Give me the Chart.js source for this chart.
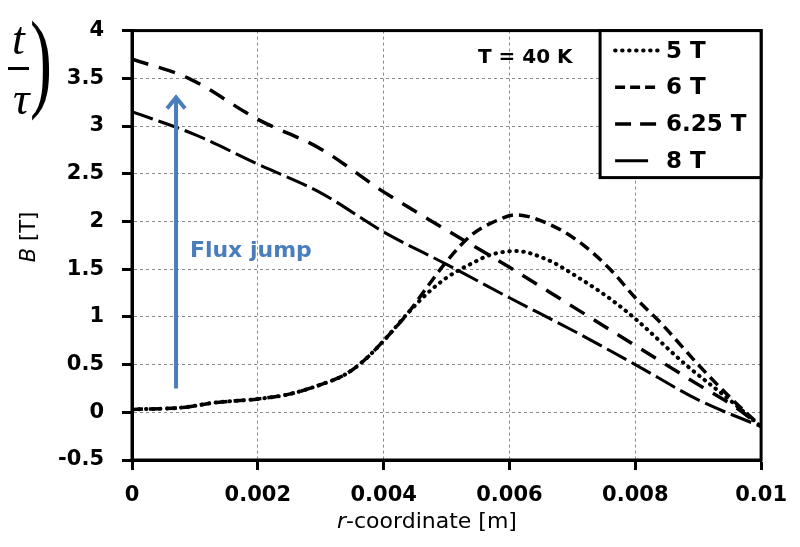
<!DOCTYPE html>
<html>
<head>
<meta charset="utf-8">
<script src="https://cdn.jsdelivr.net/npm/chart.js@4"></script>
<style>
  html, body { margin: 0; padding: 0; background: #fff; }
  canvas { display: block; }
</style>
</head>
<body>
<canvas id="fluxChart" width="800" height="547"></canvas>
<script>
// ==========================================
// Data
// ==========================================

const xTickLabels = ['0', '0.002', '0.004', '0.006', '0.008', '0.01'];
const yTickLabels = ['-0.5', '0', '0.5', '1', '1.5', '2', '2.5', '3', '3.5', '4'];
const seriesNames = ['5 T', '6 T', '6.25 T', '8 T'];

// 5 T (dotted)
const r5 = [0, 0.0008, 0.0013, 0.002, 0.0025, 0.003, 0.0034, 0.0037, 0.004, 0.0044,
            0.0047, 0.005, 0.0054, 0.0057, 0.0061, 0.0066, 0.0071, 0.0076, 0.008, 0.0088, 0.0095, 0.01];
const b5 = [0.03, 0.05, 0.10, 0.14, 0.19, 0.29, 0.40, 0.55, 0.75, 1.05,
            1.25, 1.41, 1.56, 1.65, 1.69, 1.60, 1.41, 1.19, 0.98, 0.50, 0.13, -0.15];

// 6 T (short dashes)
const r6 = [0, 0.0008, 0.0013, 0.002, 0.0025, 0.003, 0.0034, 0.0037, 0.004, 0.0044,
            0.0047, 0.005, 0.0054, 0.0058, 0.0061, 0.0066, 0.0071, 0.0076, 0.008, 0.0084, 0.009, 0.0095, 0.01];
const b6 = [0.03, 0.05, 0.10, 0.14, 0.19, 0.29, 0.40, 0.55, 0.75, 1.05,
            1.32, 1.58, 1.86, 2.01, 2.07, 1.98, 1.79, 1.50, 1.20, 0.94, 0.50, 0.16, -0.15];

// 6.25 T (long dashes)
const r625 = [0, 0.0009, 0.002, 0.003, 0.004, 0.005, 0.006, 0.007, 0.008, 0.009, 0.0096, 0.01];
const b625 = [3.70, 3.50, 3.07, 2.76, 2.31, 1.91, 1.52, 1.11, 0.70, 0.29, 0.05, -0.15];

// 8 T (solid)
const r8 = [0, 0.001, 0.002, 0.003, 0.004, 0.005, 0.006, 0.007, 0.008, 0.009, 0.01];
const b8 = [3.15, 2.91, 2.60, 2.30, 1.89, 1.55, 1.20, 0.86, 0.50, 0.13, -0.15];

// annotations (data coordinates)
const arrowR = 0.0007;
const arrowFromB = 0.25;
const arrowToB = 3.32;
const fluxLabel = { r: 0.00092, b: 1.69, text: 'Flux jump' };
const tempLabel = { r: 0.0055, b: 3.71, text: 'T = 40 K' };

// ==========================================
// Helpers
// ==========================================

function toPoints(xs, ys) {
    return xs.map(function (x, i) { return { x: x, y: ys[i] }; });
}

const BLUE = '#4a7ebb';

const seriesData = [toPoints(r5, b5), toPoints(r6, b6), toPoints(r625, b625), toPoints(r8, b8)];

// ==========================================
// Overlay: frame, arrow, labels, legend, titles
// ==========================================

function drawOverlay(chart) {
    const ctx = chart.ctx;
    const a = chart.chartArea;
    const xs = chart.scales.x;
    const ys = chart.scales.y;

    ctx.save();

    // plot frame
    ctx.setLineDash([]);
    ctx.strokeStyle = '#000';
    ctx.lineWidth = 3;
    ctx.strokeRect(a.left, a.top, a.right - a.left, a.bottom - a.top);

    // flux jump arrow
    const ax = xs.getPixelForValue(arrowR);
    const ay0 = ys.getPixelForValue(arrowFromB);
    const ay1 = ys.getPixelForValue(arrowToB);
    ctx.strokeStyle = BLUE;
    ctx.lineWidth = 4;
    ctx.beginPath();
    ctx.moveTo(ax, ay0);
    ctx.lineTo(ax, ay1 + 2);
    ctx.stroke();
    ctx.beginPath();
    ctx.moveTo(ax - 9, ay1 + 13);
    ctx.lineTo(ax, ay1 + 2);
    ctx.lineTo(ax + 9, ay1 + 13);
    ctx.stroke();

    // flux jump text
    ctx.fillStyle = BLUE;
    ctx.font = 'bold 22px "DejaVu Sans"';
    ctx.textAlign = 'left';
    ctx.textBaseline = 'middle';
    ctx.fillText(fluxLabel.text, xs.getPixelForValue(fluxLabel.r), ys.getPixelForValue(fluxLabel.b));

    // temperature text
    ctx.fillStyle = '#000';
    ctx.font = 'bold 20px "DejaVu Sans"';
    ctx.fillText(tempLabel.text, xs.getPixelForValue(tempLabel.r), ys.getPixelForValue(tempLabel.b));

    // legend box
    const lx = a.right - 161, ly = a.top, lw = 161, lh = 147;
    ctx.fillStyle = '#fff';
    ctx.fillRect(lx, ly, lw, lh);
    ctx.strokeStyle = '#000';
    ctx.lineWidth = 3;
    ctx.strokeRect(lx, ly, lw, lh);

    const legendDash = [[0.5, 6.5], [10, 5], [16, 9], []];
    const legendWidth = [4, 3.5, 3.5, 3];
    ctx.font = 'bold 23px "DejaVu Sans"';
    seriesNames.forEach(function (name, i) {
        const rowY = ly + 20 + i * 36.7;
        ctx.strokeStyle = '#000';
        ctx.lineWidth = legendWidth[i];
        ctx.lineCap = i === 0 ? 'round' : 'butt';
        ctx.setLineDash(legendDash[i]);
        ctx.beginPath();
        ctx.moveTo(lx + 15, rowY);
        ctx.lineTo(lx + (i === 3 ? 48 : 60), rowY);
        ctx.stroke();
        ctx.fillStyle = '#000';
        ctx.fillText(name, lx + 66, rowY + 1);
    });
    ctx.setLineDash([]);
    ctx.lineCap = 'butt';

    // x axis title: r-coordinate [m]
    ctx.fillStyle = '#000';
    const xt1 = 'r', xt2 = '-coordinate [m]';
    ctx.font = 'italic 22px "DejaVu Sans"';
    const w1 = ctx.measureText(xt1).width;
    ctx.font = '22px "DejaVu Sans"';
    const w2 = ctx.measureText(xt2).width;
    const xcx = 427 - (w1 + w2) / 2;
    ctx.font = 'italic 22px "DejaVu Sans"';
    ctx.fillText(xt1, xcx, 522);
    ctx.font = '22px "DejaVu Sans"';
    ctx.fillText(xt2, xcx + w1, 522);

    // y axis title: B [T]
    ctx.save();
    ctx.translate(30, 237);
    ctx.rotate(-Math.PI / 2);
    ctx.font = 'italic 21px "DejaVu Sans"';
    const v1 = ctx.measureText('B').width;
    ctx.font = '21px "DejaVu Sans"';
    const v2 = ctx.measureText(' [T]').width;
    ctx.font = 'italic 21px "DejaVu Sans"';
    ctx.fillText('B', -(v1 + v2) / 2, 0);
    ctx.font = '21px "DejaVu Sans"';
    ctx.fillText(' [T]', -(v1 + v2) / 2 + v1, 0);
    ctx.restore();

    // t / tau ) fragment in the top-left corner
    ctx.textBaseline = 'alphabetic';
    ctx.font = 'italic 46px "Liberation Serif"';
    ctx.fillText('t', 12, 54);
    ctx.fillRect(8, 67, 21, 3);
    ctx.fillText('\u03c4', 13, 114);
    ctx.save();
    ctx.translate(30, 97);
    ctx.scale(0.6, 1);
    ctx.font = '110px "Liberation Serif"';
    ctx.fillText(')', 0, 0);
    ctx.restore();

    ctx.restore();
}

// ==========================================
// Chart
// ==========================================

function createChart() {
    const ctx = document.getElementById('fluxChart').getContext('2d');

    const datasets = [
        { label: seriesNames[0], data: seriesData[0], borderColor: '#000', borderWidth: 4,
          borderDash: [0.5, 6.5], borderCapStyle: 'round', pointRadius: 0, cubicInterpolationMode: 'monotone' },
        { label: seriesNames[1], data: seriesData[1], borderColor: '#000', borderWidth: 3.5,
          borderDash: [11, 6], pointRadius: 0, cubicInterpolationMode: 'monotone' },
        { label: seriesNames[2], data: seriesData[2], borderColor: '#000', borderWidth: 3.5,
          borderDash: [17, 11], pointRadius: 0, cubicInterpolationMode: 'monotone' },
        { label: seriesNames[3], data: seriesData[3], borderColor: '#000', borderWidth: 3,
          borderDash: [22, 6], pointRadius: 0, cubicInterpolationMode: 'monotone' }
    ];

    return new Chart(ctx, {
        type: 'line',
        data: { datasets: datasets },
        options: {
            responsive: false,
            animation: false,
            layout: { padding: { top: 17, right: 37, left: 0, bottom: 0 } },
            plugins: { legend: { display: false } },
            scales: {
                x: {
                    type: 'linear',
                    min: 0,
                    max: 0.01,
                    afterFit(scale) { scale.height = 87; },
                    ticks: {
                        stepSize: 0.002,
                        autoSkip: false,
                        maxRotation: 0,
                        padding: 13,
                        color: '#000',
                        font: { family: 'DejaVu Sans', weight: 'bold', size: 21 },
                        callback: function (v, i) { return xTickLabels[i]; }
                    },
                    grid: { color: '#8a8a8a', tickColor: '#000', tickWidth: 3, tickLength: 10 },
                    border: { color: '#000', width: 3, dash: [3, 3] }
                },
                y: {
                    min: -0.5,
                    max: 4,
                    afterFit(scale) { scale.width = 132; },
                    ticks: {
                        stepSize: 0.5,
                        padding: 18,
                        color: '#000',
                        font: { family: 'DejaVu Sans', weight: 'bold', size: 21 },
                        callback: function (v, i) { return yTickLabels[i]; }
                    },
                    grid: { color: '#8a8a8a', tickColor: '#000', tickWidth: 3, tickLength: 10 },
                    border: { color: '#000', width: 3, dash: [3, 3] }
                }
            }
        }
    });
}

const chart = createChart();
drawOverlay(chart);
</script>
</body>
</html>
